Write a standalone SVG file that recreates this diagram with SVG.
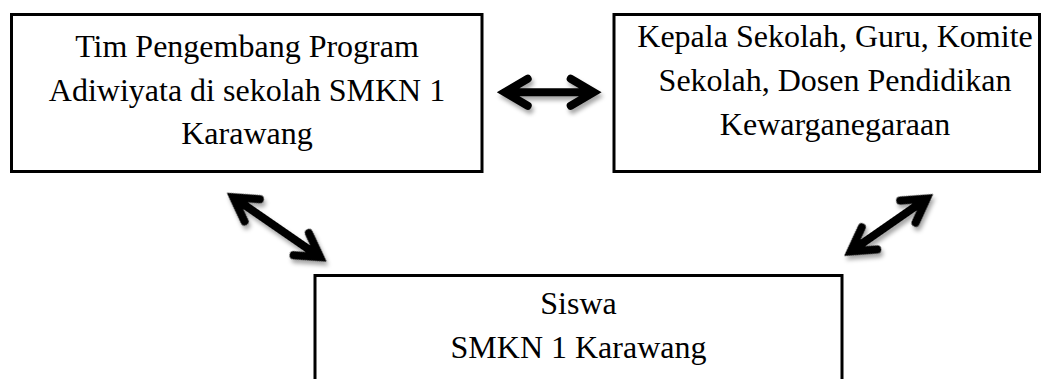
<svg xmlns="http://www.w3.org/2000/svg" width="1041" height="379" viewBox="0 0 1041 379">
<style>
.box{fill:#fff;stroke:#000;stroke-width:3}
.lbl{font-family:"Liberation Serif","Times New Roman",serif;font-size:32px;fill:#000;text-anchor:middle}
.arr{fill:none;stroke:#000;stroke-width:8;stroke-linecap:round;stroke-linejoin:miter;stroke-miterlimit:6}
</style>
<defs>
<filter id="sh" x="-30%" y="-30%" width="160%" height="180%">
<feDropShadow dx="2" dy="4" stdDeviation="2.2" flood-color="#000" flood-opacity="0.35"/>
</filter>
</defs>
<rect width="1041" height="379" fill="#fff"/>
<g id="node-tim">
<rect class="box" x="11.5" y="14.5" width="470.5" height="157"/>
<text class="lbl" x="247" y="57">Tim Pengembang Program</text>
<text class="lbl" x="247" y="100.5">Adiwiyata di sekolah SMKN 1</text>
<text class="lbl" x="247" y="144">Karawang</text>
</g>
<g id="node-kepala">
<rect class="box" x="614" y="14.5" width="425.5" height="157"/>
<text class="lbl" x="835" y="47">Kepala Sekolah, Guru, Komite</text>
<text class="lbl" x="835" y="91">Sekolah, Dosen Pendidikan</text>
<text class="lbl" x="835" y="135">Kewarganegaraan</text>
</g>
<g id="node-siswa">
<rect class="box" x="315" y="275.5" width="527" height="130"/>
<text class="lbl" x="578.5" y="314">Siswa</text>
<text class="lbl" x="578.5" y="358">SMKN 1 Karawang</text>
</g>
<g id="connectors" filter="url(#sh)">
<g transform="translate(549.2 92.3)">
<path class="arr" d="M21.5 -13.5 L44.5 0 L21.5 13.5 M-21.5 -13.5 L-44.5 0 L-21.5 13.5 M-40 0 L40 0"/>
</g>
<g transform="translate(276.7 227.2) rotate(34.6)">
<path class="arr" d="M29.75 -13.5 L52.75 0 L29.75 13.5 M-29.75 -13.5 L-52.75 0 L-29.75 13.5 M-48 0 L48 0"/>
</g>
<g transform="translate(888.7 225) rotate(-34.8)">
<path class="arr" d="M23.35 -13.5 L46.35 0 L23.35 13.5 M-23.35 -13.5 L-46.35 0 L-23.35 13.5 M-42 0 L42 0"/>
</g>
</g>
</svg>
